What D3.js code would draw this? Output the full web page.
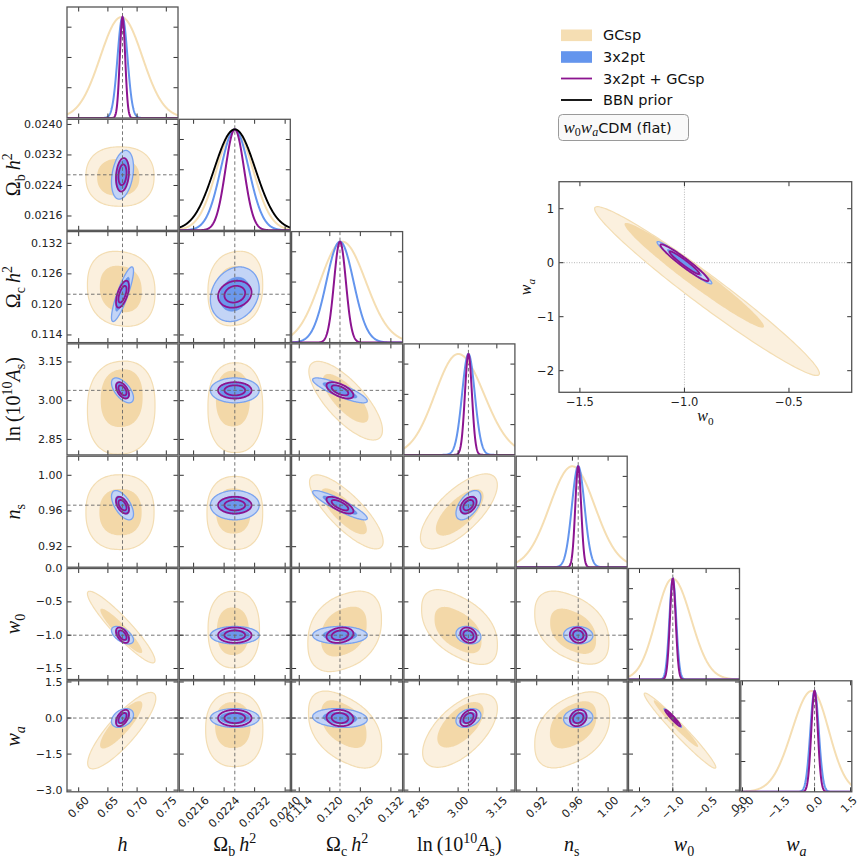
<!DOCTYPE html>
<html><head><meta charset="utf-8">
<script src="https://cdn.jsdelivr.net/npm/d3@7"></script>
<style>body{margin:0;background:#fff}svg{display:block}</style>
</head><body><svg id="c" width="859" height="861"></svg>
<script>
// ---------------- DATA ----------------
const params = ["h","ombh2","omch2","lnAs","ns","w0","wa"];
const fiducials = [0.675, 0.02268, 0.122, 3.04, 0.9665, -1.0, 0.0];
const rangeLo = [0.580, 0.021225, 0.1125, 2.79, 0.897, -1.665, -3.07];
const rangeHi = [0.770, 0.024135, 0.1343, 3.22, 1.0214, 0.001, 1.55];
const tickValues = [[0.60,0.65,0.70,0.75],[0.0216,0.0224,0.0232,0.0240],[0.114,0.120,0.126,0.132],[2.85,3.00,3.15],[0.92,0.96,1.00],[-1.5,-1.0,-0.5,0.0],[-3.0,-1.5,0.0,1.5]];
const tickLabels = [["0.60","0.65","0.70","0.75"],["0.0216","0.0224","0.0232","0.0240"],["0.114","0.120","0.126","0.132"],["2.85","3.00","3.15"],["0.92","0.96","1.00"],["\u22121.5","\u22121.0","\u22120.5","0.0"],["\u22123.0","\u22121.5","0.0","1.5"]];
const densityTicks = [0.3, 0.6, 0.9];

// 1D marginals
const gcsp1dMode = [0.673, 0.02268, 0.12247, 3.0004, 0.9598, -1.004, -0.114];
const gcsp1dSigL = [0.036, 0.000473, 0.00437, 0.0895, 0.0253, 0.246, 0.828];
const gcsp1dSigR = [0.036, 0.000473, 0.0046, 0.0994, 0.0253, 0.277, 0.708];
const x2pt1dSig  = [0.0085, 0.000369, 0.00266, 0.0246, 0.00712, 0.051, 0.177];
const comb1dSig  = [0.0046, 0.000244, 0.00116, 0.0136, 0.0033, 0.043, 0.136];
const bbnPriorMean = 0.02268, bbnPriorSig = 0.000540;

// 2D: 3x2pt and 3x2pt+GCsp (centred on fiducial)
const x2pt2dSig = [0.00769, 0.000261, 0.00219, 0.0197, 0.0067, 0.0535, 0.16];
const comb2dSig = [0.00454, 0.000179, 0.00108, 0.0129, 0.00383, 0.047, 0.139];
// lower-triangle correlations, order (1,0),(2,0),(2,1),(3,0),(3,1),(3,2),...
const x2ptCorr = [0.3, 0.85,0.2, -0.6,0.0,-0.85, -0.6,0.0,-0.9,0.55, -0.55,0.0,0.0,-0.2,-0.05, 0.35,0.0,-0.15,0.3,0.1,-0.97];
const combCorr = [0.2, 0.6,0.15, -0.5,0.0,-0.6, -0.5,0.0,-0.7,0.4, -0.5,0.0,0.2,-0.2,-0.1, 0.5,0.0,-0.1,0.4,0.2,-0.96];

// GCsp 2D contours per panel: [row, col, cx, cy, innerCx, innerCy, sigX, sigY, rho]
const gcspContours = [
 [1,0, 0.6707, 0.022634, 0.6678, 0.022613, 0.0238, 0.000318, 0.0],
 [2,0, 0.6728, 0.12306, 0.6721, 0.12302, 0.0236, 0.00299, -0.1],
 [2,1, 0.022694, 0.12312, 0.022654, 0.12302, 0.000293, 0.00297, 0.1],
 [3,0, 0.6728, 2.973, 0.6736, 3.0096, 0.0236, 0.0735, 0.05],
 [3,1, 0.022694, 2.973, 0.022629, 3.008, 0.000293, 0.0709, 0.0],
 [3,2, 0.12312, 3.000, 0.12312, 3.009, 0.00295, 0.0622, -0.75],
 [4,0, 0.6707, 0.9587, 0.6716, 0.9587, 0.0238, 0.0171, 0.0],
 [4,1, 0.022681, 0.9578, 0.022642, 0.9600, 0.000298, 0.0167, 0.0],
 [4,2, 0.12325, 0.959, 0.1228, 0.9596, 0.00295, 0.01694, -0.8],
 [4,3, 3.003, 0.9596, 3.0062, 0.9584, 0.0608, 0.01714, 0.7],
 [5,0, 0.6728, -0.878, 0.6729, -0.935, 0.0236, 0.2194, -0.93],
 [5,1, 0.022653, -0.916, 0.022629, -0.941, 0.000275, 0.2347, 0.0],
 [5,2, 0.12292, -0.943, 0.12276, -0.946, 0.00295, 0.2404, 0.3],
 [5,3, 3.0054, -0.878, 2.9997, -0.923, 0.0599, 0.2194, -0.5],
 [5,4, 0.9593, -0.886, 0.9608, -0.941, 0.01694, 0.2163, -0.4],
 [6,0, 0.6737, -0.525, 0.6728, -0.283, 0.0238, 0.649, 0.85],
 [6,1, 0.022666, -0.479, 0.022629, -0.296, 0.000306, 0.629, 0.0],
 [6,2, 0.1230, -0.479, 0.12276, -0.254, 0.00293, 0.629, -0.45],
 [6,3, 3.0074, -0.521, 3.0093, -0.283, 0.0591, 0.624, 0.6],
 [6,4, 0.9598, -0.492, 0.9608, -0.283, 0.01714, 0.624, 0.4],
 [6,5, -0.892, -0.525, -0.953, -0.233, 0.2194, 0.638, -0.975]
];

// inset (w0, wa)
const insetXDomain = [-1.6, -0.2], insetYDomain = [-2.4, 1.5];
const insetXTicks = [-1.5, -1.0, -0.5], insetXTickLabels = ["\u22121.5","\u22121.0","\u22120.5"];
const insetYTicks = [-2, -1, 0, 1], insetYTickLabels = ["\u22122","\u22121","0","1"];

const legendLabels = ["GCsp", "3x2pt", "3x2pt + GCsp", "BBN prior"];

// ---------------- STYLE ----------------
const col = {gOut:"#fbf0de", gOutEdge:"#f3ddb3", gIn:"#f3d8a8", bOut:"#c3d4f6", bEdge:"#7aa3ef", bIn:"#6b98ec",
  purple:"#8c1490", wheat:"#f5deb3", blue:"#6495ed", frame:"#555", tick:"#333", dash:"#666"};
const K1 = 1.52, K2 = 2.45;
const L0 = 67, T0 = 7, P = 112.3, S = 111;
const sansFont = "DejaVu Sans, sans-serif";
const serifFont = "Liberation Serif, Times New Roman, serif";

const svg = d3.select("#c");
const defs = svg.append("defs");
const xs = params.map((_, j) => d3.scaleLinear([rangeLo[j], rangeHi[j]], [L0 + j*P, L0 + j*P + S]));
const ys = params.map((_, i) => d3.scaleLinear([rangeLo[i], rangeHi[i]], [T0 + i*P + S, T0 + i*P]));

function corrIdx(i, j){ return i*(i-1)/2 + j; }

// contour outline; pw > 2 gives the squarer, blob-like GCsp outline
function ellipsePts(cx, cy, sx, sy, rho, k, xsc, ysc, pw){
  const pts = [], n = 180, r2 = Math.sqrt(1 - rho*rho), e = 2/(pw || 2);
  for (let t = 0; t < n; t++){
    const a = 2*Math.PI*t/n;
    let u = Math.cos(a), v = Math.sin(a);
    u = Math.sign(u)*Math.pow(Math.abs(u), e); v = Math.sign(v)*Math.pow(Math.abs(v), e);
    pts.push([xsc(cx + k*sx*u), ysc(cy + k*sy*(rho*u + r2*v))]);
  }
  return pts;
}
const closed = d3.line().curve(d3.curveCatmullRomClosed);
const openLine = d3.line();

function clipFor(id, x, y, w, h){
  defs.append("clipPath").attr("id", id).append("rect").attr("x", x).attr("y", y).attr("width", w).attr("height", h);
  return "url(#" + id + ")";
}

function drawContours(g, xsc, ysc, gc, bsx, bsy, brho, psx, psy, prho, fx, fy){
  const pw = Math.abs(gc[6]) < 0.6 ? 2.35 : 2.0;
  g.append("path").attr("d", closed(ellipsePts(gc[0], gc[1], gc[4], gc[5], gc[6], K2, xsc, ysc, pw)))
    .attr("fill", col.gOut).attr("stroke", col.gOutEdge).attr("stroke-width", 1.2);
  g.append("path").attr("d", closed(ellipsePts(gc[2], gc[3], gc[4], gc[5], gc[6], K1, xsc, ysc, pw)))
    .attr("fill", col.gIn).attr("stroke", "none");
  g.append("path").attr("d", closed(ellipsePts(fx, fy, bsx, bsy, brho, K2, xsc, ysc)))
    .attr("fill", col.bOut).attr("stroke", col.bEdge).attr("stroke-width", 1.3);
  g.append("path").attr("d", closed(ellipsePts(fx, fy, bsx, bsy, brho, K1, xsc, ysc)))
    .attr("fill", col.bIn).attr("stroke", "#5d8de6").attr("stroke-width", 0.6);
  [K2, K1].forEach(k => g.append("path").attr("d", closed(ellipsePts(fx, fy, psx, psy, prho, k, xsc, ysc)))
    .attr("fill", "none").attr("stroke", col.purple).attr("stroke-width", 1.8));
}

function frameAndTicks(x0, y0, w, h, xt, yt){
  const g = svg.append("g");
  xt.forEach(x => {
    g.append("line").attr("x1", x).attr("x2", x).attr("y1", y0 + h).attr("y2", y0 + h - 4.5).attr("stroke", col.tick).attr("stroke-width", 1);
    g.append("line").attr("x1", x).attr("x2", x).attr("y1", y0).attr("y2", y0 + 4.5).attr("stroke", col.tick).attr("stroke-width", 1);
  });
  yt.forEach(y => {
    g.append("line").attr("x1", x0).attr("x2", x0 + 4.5).attr("y1", y).attr("y2", y).attr("stroke", col.tick).attr("stroke-width", 1);
    g.append("line").attr("x1", x0 + w).attr("x2", x0 + w - 4.5).attr("y1", y).attr("y2", y).attr("stroke", col.tick).attr("stroke-width", 1);
  });
  g.append("rect").attr("x", x0).attr("y", y0).attr("width", w).attr("height", h)
    .attr("fill", "none").attr("stroke", col.frame).attr("stroke-width", 1.3);
}

function dashLine(g, x1, y1, x2, y2){
  g.append("line").attr("x1", x1).attr("y1", y1).attr("x2", x2).attr("y2", y2)
    .attr("stroke", col.dash).attr("stroke-width", 0.9).attr("stroke-dasharray", "3.5,2.5");
}

// ---------------- 2D PANELS ----------------
gcspContours.forEach(r => {
  const i = r[0], j = r[1];
  const x0 = L0 + j*P, y0 = T0 + i*P;
  const g = svg.append("g").attr("clip-path", clipFor("c" + i + j, x0, y0, S, S));
  drawContours(g, xs[j], ys[i], r.slice(2),
    x2pt2dSig[j], x2pt2dSig[i], x2ptCorr[corrIdx(i, j)],
    comb2dSig[j], comb2dSig[i], combCorr[corrIdx(i, j)], fiducials[j], fiducials[i]);
  dashLine(g, xs[j](fiducials[j]), y0, xs[j](fiducials[j]), y0 + S);
  dashLine(g, x0, ys[i](fiducials[i]), x0 + S, ys[i](fiducials[i]));
  frameAndTicks(x0, y0, S, S, tickValues[j].map(v => xs[j](v)), tickValues[i].map(v => ys[i](v)));
});

// ---------------- 1D PANELS ----------------
params.forEach((p, k) => {
  const x0 = L0 + k*P, y0 = T0 + k*P;
  const yd = d3.scaleLinear([0, 1.1], [y0 + S, y0]);
  const g = svg.append("g").attr("clip-path", clipFor("d" + k, x0, y0 - 2, S, S + 2));
  dashLine(g, xs[k](fiducials[k]), y0, xs[k](fiducials[k]), y0 + S);
  const grid = d3.range(0, 401).map(t => rangeLo[k] + (rangeHi[k] - rangeLo[k]) * t/400);
  const gauss = (x, m, s) => Math.exp(-0.5*((x - m)/s)**2);
  const curves = [
    {f: x => gauss(x, gcsp1dMode[k], x < gcsp1dMode[k] ? gcsp1dSigL[k] : gcsp1dSigR[k]), c: col.wheat, w: 2},
    {f: x => gauss(x, fiducials[k], x2pt1dSig[k]), c: col.blue, w: 2},
    {f: x => gauss(x, fiducials[k], comb1dSig[k]), c: col.purple, w: 2}
  ];
  if (k === 1) curves.push({f: x => gauss(x, bbnPriorMean, bbnPriorSig), c: "#000", w: 1.9});
  curves.forEach(cv => g.append("path").attr("d", openLine(grid.map(x => [xs[k](x), yd(cv.f(x))])))
    .attr("fill", "none").attr("stroke", cv.c).attr("stroke-width", cv.w));
  frameAndTicks(x0, y0, S, S, tickValues[k].map(v => xs[k](v)), densityTicks.map(v => yd(v)));
});

// ---------------- TICK LABELS ----------------
const tl = svg.append("g").attr("font-family", sansFont).attr("font-size", 11).attr("fill", "#222");
for (let i = 1; i < 7; i++){
  tickValues[i].forEach((v, t) => tl.append("text").attr("x", L0 - 4.5).attr("y", ys[i](v))
    .attr("text-anchor", "end").attr("dominant-baseline", "central").text(tickLabels[i][t]));
}
const bottom = T0 + 6*P + S;
for (let j = 0; j < 7; j++){
  tickValues[j].forEach((v, t) => {
    const tx = tl.append("text").attr("text-anchor", "middle").attr("dominant-baseline", "central").text(tickLabels[j][t]);
    const w = tx.node().getComputedTextLength();
    const half = (w + 8) * 0.3536;
    const cx = Math.min(xs[j](v), 858 - half);
    tx.attr("transform", `translate(${cx},${bottom + 4 + half}) rotate(-45)`);
  });
}

// ---------------- AXIS LABELS ----------------
const axisLabels = [
  [{t:"h", i:1}],
  [{t:"\u03A9"},{t:"b", sub:1},{t:"\u2009"},{t:"h", i:1},{t:"2", sup:1}],
  [{t:"\u03A9"},{t:"c", sub:1},{t:"\u2009"},{t:"h", i:1},{t:"2", sup:1}],
  [{t:"ln\u2009(10"},{t:"10", sup:1},{t:"A", i:1},{t:"s", sub:1},{t:")"}],
  [{t:"n", i:1},{t:"s", sub:1}],
  [{t:"w", i:1},{t:"0", sub:1}],
  [{t:"w", i:1},{t:"a", sub:1, i:1}]
];
function addMath(parent, parts, fs){
  const t = parent.append("text").attr("font-family", serifFont).attr("font-size", fs).attr("fill", "#111");
  let cur = 0;
  parts.forEach(p => {
    const target = p.sub ? 0.25*fs : p.sup ? -0.4*fs : 0;
    const ts = t.append("tspan").text(p.t).attr("dy", target - cur).attr("font-size", (p.sub || p.sup) ? fs*0.7 : fs);
    if (p.i) ts.attr("font-style", "italic");
    cur = target;
  });
  return t;
}
for (let j = 0; j < 7; j++){
  addMath(svg, axisLabels[j], 20).attr("text-anchor", "middle")
    .attr("transform", `translate(${L0 + j*P + S/2},851)`);
}
for (let i = 1; i < 7; i++){
  addMath(svg, axisLabels[i], 20).attr("text-anchor", "middle")
    .attr("transform", `translate(20,${T0 + i*P + S/2}) rotate(-90)`);
}

// ---------------- INSET ----------------
const IX0 = 559, IX1 = 851.7, IY0 = 181.7, IY1 = 392.3;
const ixs = d3.scaleLinear(insetXDomain, [IX0, IX1]);
const iys = d3.scaleLinear(insetYDomain, [IY1, IY0]);
const ig = svg.append("g").attr("clip-path", clipFor("inset", IX0, IY0, IX1 - IX0, IY1 - IY0));
ig.append("line").attr("x1", ixs(fiducials[5])).attr("x2", ixs(fiducials[5])).attr("y1", IY0).attr("y2", IY1)
  .attr("stroke", "#999").attr("stroke-width", 0.7).attr("stroke-dasharray", "1,1.5");
ig.append("line").attr("x1", IX0).attr("x2", IX1).attr("y1", iys(fiducials[6])).attr("y2", iys(fiducials[6]))
  .attr("stroke", "#999").attr("stroke-width", 0.7).attr("stroke-dasharray", "1,1.5");
const gw = gcspContours[gcspContours.length - 1];
drawContours(ig, ixs, iys, gw.slice(2), x2pt2dSig[5], x2pt2dSig[6], x2ptCorr[corrIdx(6,5)],
  comb2dSig[5], comb2dSig[6], combCorr[corrIdx(6,5)], fiducials[5], fiducials[6]);
frameAndTicks(IX0, IY0, IX1 - IX0, IY1 - IY0, insetXTicks.map(ixs), insetYTicks.map(iys));
const il = svg.append("g").attr("font-family", sansFont).attr("font-size", 11.5).attr("fill", "#222");
insetXTicks.forEach((v, t) => il.append("text").attr("x", ixs(v)).attr("y", IY1 + 14).attr("text-anchor", "middle").text(insetXTickLabels[t]));
insetYTicks.forEach((v, t) => il.append("text").attr("x", IX0 - 5).attr("y", iys(v)).attr("text-anchor", "end").attr("dominant-baseline", "central").text(insetYTickLabels[t]));
addMath(svg, axisLabels[5], 16).attr("text-anchor", "middle").attr("transform", `translate(${(IX0 + IX1)/2},421)`);
addMath(svg, axisLabels[6], 16).attr("text-anchor", "middle").attr("transform", `translate(531,${(IY0 + IY1)/2}) rotate(-90)`);

// ---------------- LEGEND ----------------
const lg = svg.append("g");
const ly = [35.3, 57, 78.5, 100];
lg.append("rect").attr("x", 561).attr("y", ly[0] - 5.8).attr("width", 31).attr("height", 11.6).attr("fill", col.wheat);
lg.append("rect").attr("x", 561).attr("y", ly[1] - 5.8).attr("width", 31).attr("height", 11.6).attr("fill", col.blue);
lg.append("line").attr("x1", 561).attr("x2", 592).attr("y1", ly[2]).attr("y2", ly[2]).attr("stroke", col.purple).attr("stroke-width", 1.8);
lg.append("line").attr("x1", 561).attr("x2", 592).attr("y1", ly[3]).attr("y2", ly[3]).attr("stroke", "#000").attr("stroke-width", 1.8);
legendLabels.forEach((s, t) => lg.append("text").attr("x", 603).attr("y", ly[t]).attr("dominant-baseline", "central")
  .attr("font-family", sansFont).attr("font-size", 14.5).attr("fill", "#111").text(s));
lg.append("rect").attr("x", 558.5).attr("y", 114.5).attr("width", 130).attr("height", 26).attr("rx", 4)
  .attr("fill", "#f9f9f9").attr("stroke", "#9a9a9a").attr("stroke-width", 1);
const bt = lg.append("text").attr("x", 563.5).attr("y", 133).attr("font-size", 15).attr("fill", "#111");
bt.append("tspan").attr("font-family", serifFont).attr("font-style", "italic").attr("font-size", 17).text("w");
bt.append("tspan").attr("font-family", serifFont).attr("font-size", 12).attr("dy", 3).text("0");
bt.append("tspan").attr("font-family", serifFont).attr("font-style", "italic").attr("font-size", 17).attr("dy", -3).text("w");
bt.append("tspan").attr("font-family", serifFont).attr("font-style", "italic").attr("font-size", 12).attr("dy", 3).text("a");
bt.append("tspan").attr("font-family", sansFont).attr("font-size", 14.5).attr("dy", -3).text("CDM (flat)");
</script></body></html>
